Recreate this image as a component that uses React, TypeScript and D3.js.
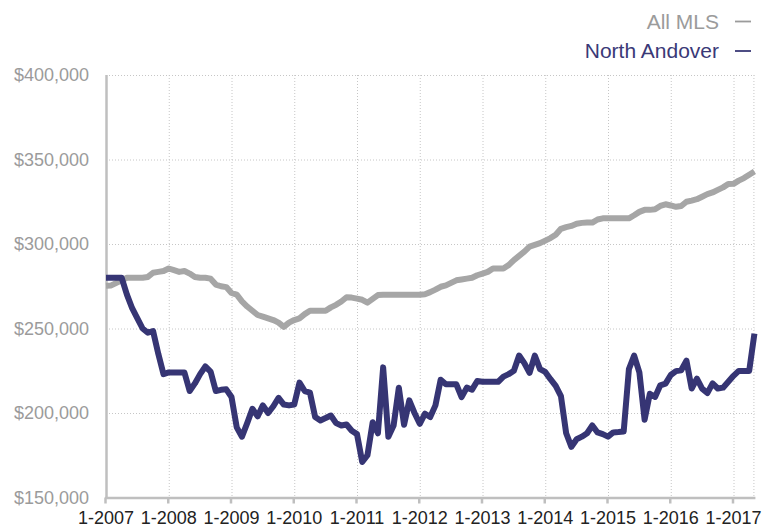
// App.tsx — median sales price, All MLS vs North Andover, monthly 1-2007 .. 5-2017.
import * as d3 from "d3";

// values in $1000s, one per month starting Jan 2007
const allMLS = [
  275.3, 275.5, 277, 278.5, 280, 280, 280, 280, 280.5, 283, 283.5, 284,
  285.5, 284.5, 283.5, 284, 282.5, 280.5, 280, 280, 279.5, 276, 275, 274.5,
  271, 270, 266, 263, 260.5, 258, 257, 256, 255, 253.5, 251, 253.5,
  255, 256, 258.5, 260.5, 260.5, 260.5, 260.5, 262.5, 264, 266, 268.5, 268.3,
  267.7, 267, 265.3, 267.5, 269.8, 270, 270, 270, 270, 270, 270, 270,
  270, 270.3, 271.5, 273, 274.7, 275.5, 277, 278.5, 279, 279.5, 280, 281.5,
  282.5, 283.5, 285.5, 285.5, 285.5, 287.5, 290.5, 293, 295.5, 298.5, 299.5, 300.5,
  302, 303.5, 305.5, 309, 310, 310.7, 312, 312.5, 312.7, 312.7, 314.5, 315.2,
  315.2, 315.2, 315.2, 315.2, 315.2, 317, 319, 320.2, 320.2, 320.5, 322.5, 323.5,
  322.8, 322, 322.5, 325, 325.7, 326.5, 328, 329.5, 330.5, 332, 333.5, 335.5,
  335.6, 337.5, 339, 341, 342.9,
];

const northAndover = [
  280, 280, 280, 280, 270, 262, 256, 250, 247.5, 248.5, 235, 223,
  224, 224, 224, 224, 213, 217.5, 223, 227.5, 224.5, 213, 213.7, 214,
  209.5, 191.5, 186, 194, 202.5, 198, 204.5, 200, 204, 209, 205, 204.5,
  205, 218, 213, 212, 197.6, 195.6, 197, 198.5, 194, 192.6, 193.2, 189.5,
  187.5, 171, 175, 194.5, 188, 227, 186, 192.6, 215, 193, 207.5, 200,
  193.6, 199.6, 197.6, 204.5, 219.7, 217, 217, 217, 209.4, 215, 213.8, 218.9,
  218.5, 218.5, 218.5, 218.5, 221.5, 223, 225, 234, 229.5, 223.7, 234, 226,
  224.3, 220, 216, 210, 188, 180, 184.5, 186, 188, 192.6, 188.5, 187.5,
  186, 188.5, 188.7, 189, 226, 234, 224, 196, 211.4, 209.5, 216.4, 217.4,
  222.5, 224.8, 225.3, 231, 214.5, 220.3, 214.4, 211.8, 217.5, 214.5, 215, 218.5,
  222, 224.9, 224.9, 224.9, 247,
];

const yearLabels = [
  "1-2007", "1-2008", "1-2009", "1-2010", "1-2011", "1-2012",
  "1-2013", "1-2014", "1-2015", "1-2016", "1-2017",
];
const yTicks = [150000, 200000, 250000, 300000, 350000, 400000];

const series = [
  { name: "All MLS", values: allMLS, color: "#a6a6a6", text: "#9b9b9b" },
  { name: "North Andover", values: northAndover, color: "#363574", text: "#3a3977" },
];

const FONT = "'Helvetica Neue', Helvetica, Arial, 'Liberation Sans', sans-serif";

export default function App() {
  const width = 778;
  const height = 529;
  const nMonths = allMLS.length;

  const x = d3.scaleLinear().domain([0, 120]).range([106, 733.5]);
  const y = d3.scaleLinear().domain([150000, 400000]).range([497.5, 75]);
  const left = x(0);
  const right = x(nMonths - 1);

  const line = d3
    .line<number>()
    .x((_, i) => x(i))
    .y((d) => y(d * 1000));

  const fmt = d3.format("$,.0f");

  return (
    <svg
      width={width}
      height={height}
      style={{ position: "fixed", left: 0, top: 0, background: "#fff" }}
      fontFamily={FONT}
    >
      {/* grid */}
      <g stroke="#c6c6c6" strokeWidth={1} strokeDasharray="1 2">
        {yTicks.slice(1).map((t) => (
          <line key={t} x1={left} x2={right} y1={y(t) + 0.5} y2={y(t) + 0.5} />
        ))}
        {yearLabels.slice(1).map((_, i) => (
          <line key={i} x1={x((i + 1) * 12) + 0.5} x2={x((i + 1) * 12) + 0.5} y1={y(400000)} y2={y(150000)} />
        ))}
        <line x1={right - 0.5} x2={right - 0.5} y1={y(400000)} y2={y(150000)} />
      </g>

      {/* axes */}
      <g stroke="#bfbfbf" strokeWidth={2.5}>
        <line x1={left + 0.5} x2={left + 0.5} y1={y(400000)} y2={y(150000) + 1} />
        <line x1={left - 1} x2={right + 1} y1={y(150000) + 0.5} y2={y(150000) + 0.5} />
        {yearLabels.map((_, i) => (
          <line key={i} x1={x(i * 12) - 0.5} x2={x(i * 12) - 0.5} y1={y(150000)} y2={y(150000) + 6} />
        ))}
      </g>

      {/* y labels */}
      <g fontSize={18} fill="#9b9b9b" textAnchor="end">
        {yTicks.map((t) => (
          <text key={t} x={89} y={y(t)} dy="0.35em">
            {fmt(t)}
          </text>
        ))}
      </g>

      {/* x labels */}
      <g fontSize={18} fill="#222" textAnchor="middle">
        {yearLabels.map((lab, i) => (
          <text key={lab} x={x(i * 12)} y={524}>
            {lab}
          </text>
        ))}
      </g>

      {/* lines */}
      {series.map((s) => (
        <path
          key={s.name}
          d={line(s.values) ?? ""}
          fill="none"
          stroke={s.color}
          strokeWidth={6}
          strokeLinejoin="round"
        />
      ))}

      {/* legend */}
      {series.map((s, i) => (
        <g key={s.name} transform={`translate(0,${28.5 + i * 29.5})`}>
          <text x={719} fontSize={21} fill={s.text} textAnchor="end">
            {s.name}
          </text>
          <line x1={735} x2={751} y1={-7} y2={-7} stroke={s.text} strokeWidth={1.8} />
        </g>
      ))}
    </svg>
  );
}
